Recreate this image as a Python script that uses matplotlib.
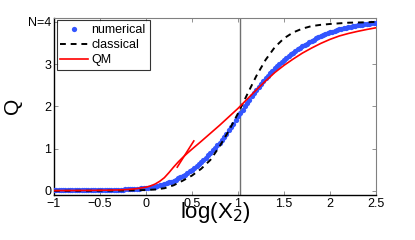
import numpy as np
import matplotlib
matplotlib.use("Agg")
import matplotlib.pyplot as plt

# numerical result, sampled every 0.025 in log(X2)
num_x = np.linspace(-1.0, 2.5, 141)
num_q = [0.010, 0.010, 0.010, 0.011, 0.011, 0.011, 0.012, 0.012, 0.012, 0.013,
         0.013, 0.013, 0.014, 0.014, 0.015, 0.015, 0.016, 0.016, 0.017, 0.018,
         0.018, 0.019, 0.020, 0.021, 0.022, 0.023, 0.024, 0.025, 0.026, 0.028,
         0.030, 0.032, 0.034, 0.037, 0.040, 0.043, 0.047, 0.051, 0.055, 0.060,
         0.065, 0.072, 0.080, 0.089, 0.100, 0.113, 0.127, 0.143, 0.160, 0.178,
         0.197, 0.218, 0.240, 0.265, 0.292, 0.320, 0.350, 0.385, 0.421, 0.459,
         0.500, 0.543, 0.588, 0.634,
         0.680, 0.730, 0.782, 0.838, 0.900, 0.960, 1.020, 1.080, 1.140, 1.208,
         1.280, 1.355, 1.430, 1.510, 1.590, 1.675, 1.760, 1.840, 1.920, 2.000,
         2.080, 2.160, 2.240, 2.315, 2.390, 2.460, 2.530, 2.597,
         2.660, 2.722, 2.782, 2.842, 2.900, 2.952, 3.002, 3.052, 3.100, 3.144,
         3.187, 3.229, 3.270, 3.309, 3.347, 3.384, 3.420, 3.454, 3.487, 3.519,
         3.550, 3.579, 3.607, 3.634, 3.660, 3.684, 3.707, 3.729, 3.750, 3.769,
         3.787, 3.804, 3.820, 3.833, 3.846, 3.858, 3.870, 3.883, 3.895, 3.907,
         3.918, 3.927, 3.936, 3.944, 3.951, 3.958, 3.965, 3.972, 3.978]

# classical curve
cl_x = [-1.0, -0.8, -0.6, -0.4, -0.2, -0.1, 0.0, 0.1, 0.2, 0.3, 0.4, 0.5, 0.6, 0.7, 0.8,
        0.9, 1.0, 1.1, 1.2, 1.3, 1.4, 1.5, 1.6, 1.7, 1.8, 1.9, 2.0, 2.2, 2.4, 2.5]
cl_q = [0.000, 0.001, 0.002, 0.004, 0.008, 0.012, 0.018, 0.030, 0.060, 0.130, 0.240, 0.360,
        0.520, 0.730, 1.050, 1.420, 1.830, 2.280, 2.720, 3.100, 3.400, 3.610, 3.750, 3.840,
        3.900, 3.930, 3.950, 3.980, 3.990, 4.000]

# quantum mechanical curve
qm_x = [-1.0, -0.8, -0.6, -0.4, -0.3, -0.2, -0.1, 0.0, 0.05, 0.1, 0.15, 0.2, 0.25, 0.3,
        0.35, 0.4, 0.45, 0.5, 0.6, 0.7, 0.8, 0.9, 1.0, 1.1, 1.2, 1.3, 1.4, 1.5, 1.6, 1.7,
        1.8, 1.9, 2.0, 2.1, 2.2, 2.3, 2.4, 2.5]
qm_q = [0.004, 0.006, 0.009, 0.015, 0.020, 0.030, 0.050, 0.085, 0.115, 0.160, 0.225, 0.310,
        0.430, 0.560, 0.680, 0.790, 0.890, 0.985, 1.170, 1.360, 1.550, 1.750, 1.950, 2.170,
        2.390, 2.600, 2.800, 2.970, 3.120, 3.260, 3.380, 3.490, 3.585, 3.665, 3.725, 3.775,
        3.820, 3.860]

# short QM asymptote piece
seg_x = [0.34, 0.52]
seg_q = [0.56, 1.18]

vline_x = 1.02

xticks = [-1, -0.5, 0, 0.5, 1, 1.5, 2, 2.5]
xticklabels = ["\u22121", "\u22120.5", "0", "0.5", "1", "1.5", "2", "2.5"]
yticks = [0, 1, 2, 3, 4]
yticklabels = ["0", "1", "2", "3", "N=4"]

plt.rcParams["font.family"] = ["Liberation Sans", "DejaVu Sans"]

fig = plt.figure(figsize=(4.15, 2.4), dpi=100)
ax = fig.add_axes([0.130, 0.1875, 0.776, 0.739])

ax.axvline(vline_x, color="#707070", lw=1.0, zorder=1)
ax.plot(num_x, num_q, "o", color="#3355ff", ms=3.8, mew=0, label="numerical", zorder=3)
ax.plot(cl_x, cl_q, "--", color="black", lw=1.4, dashes=(3, 2.5), label="classical", zorder=4)
ax.plot(qm_x, qm_q, "-", color="#ff0000", lw=1.2, label="QM", zorder=5)
ax.plot(seg_x, seg_q, "-", color="#ff0000", lw=1.2, zorder=5)

ax.set_xlim(-1, 2.5)
ax.set_ylim(-0.1, 4.1)
ax.set_xticks(xticks)
ax.set_xticklabels(xticklabels)
ax.set_yticks(yticks)
ax.set_yticklabels(yticklabels)
ax.tick_params(direction="in", length=3, width=0.6, color="#808080", labelsize=9,
               top=True, right=True, pad=2)

for side in ["top", "right"]:
    ax.spines[side].set_color("#808080")
    ax.spines[side].set_linewidth(0.8)
for side in ["left", "bottom"]:
    ax.spines[side].set_color("black")
    ax.spines[side].set_linewidth(1.0)

ax.set_xlabel("log(X$_2$)", fontsize=16, labelpad=-7)
ax.set_ylabel("Q", fontsize=15, rotation=90)
ax.yaxis.set_label_coords(-0.10, 0.5)

leg = ax.legend(loc="upper left", bbox_to_anchor=(0.008, 0.985), fontsize=9,
                frameon=True, fancybox=False, borderpad=0.3, labelspacing=0.25,
                handlelength=2.2, handletextpad=0.3, borderaxespad=0.0)
leg.get_frame().set_edgecolor("black")
leg.get_frame().set_linewidth(0.8)

fig.savefig("out.png", dpi=100)
